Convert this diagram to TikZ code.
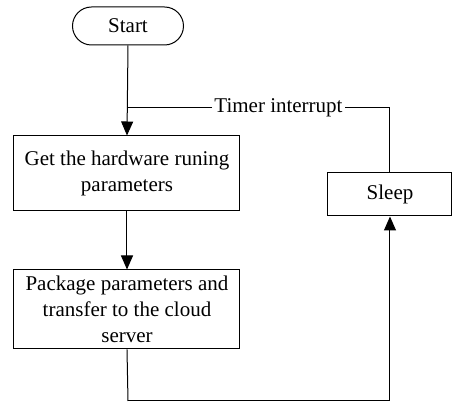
\documentclass[tikz,border=0pt]{standalone}
\usepackage{fontspec}
\setmainfont{Liberation Serif}
\usetikzlibrary{arrows.meta,positioning}

\begin{document}
\begin{tikzpicture}[x=0.5pt, y=-0.5pt,
    font=\fontsize{10.5}{13}\selectfont,
    flow/.style={line width=0.5pt, black},
    arr/.style={flow, -{Triangle[width=6pt, length=7pt]}},
    term/.style={rectangle, draw, line width=0.5pt, rounded corners=9.5pt, minimum width=55.5pt, minimum height=19pt, inner sep=0pt},
    proc/.style={rectangle, draw, line width=0.5pt, minimum width=113pt, align=center, inner sep=0pt}
]
    \useasboundingbox (0,0) rectangle (452,406);

    % Flow nodes
    \node[term] (start) at (128,26) {Start};
    \node[proc, minimum height=37.5pt] (hwget) at (127,173.5) {Get the hardware runing\\parameters};
    \node[proc, minimum height=39.5pt] (pack) at (127,309.5) {Package parameters and\\transfer to the cloud\\server};
    \node[proc, minimum width=62pt, minimum height=21.5pt] (sleep) at (390,194.5) {Sleep};

    % Loop label
    \node[fill=white, inner sep=1pt] (timer) at (278.5,108) {Timer interrupt};
    \coordinate (tjoin) at (128,108);
    \coordinate (loopbot) at (128,401);

    % Main path
    \draw[arr] (start.south) -- (hwget.north);
    \draw[arr] (hwget.south) -- (pack.north);

    % Back to sleep
    \draw[flow] (pack.south) -- (loopbot);
    \draw[arr] (loopbot) -| (sleep.south);

    % Timer interrupt wakes up
    \draw[flow] (sleep.north) |- (timer.east);
    \draw[flow] (timer.west) -- (tjoin);

\end{tikzpicture}
\end{document}
